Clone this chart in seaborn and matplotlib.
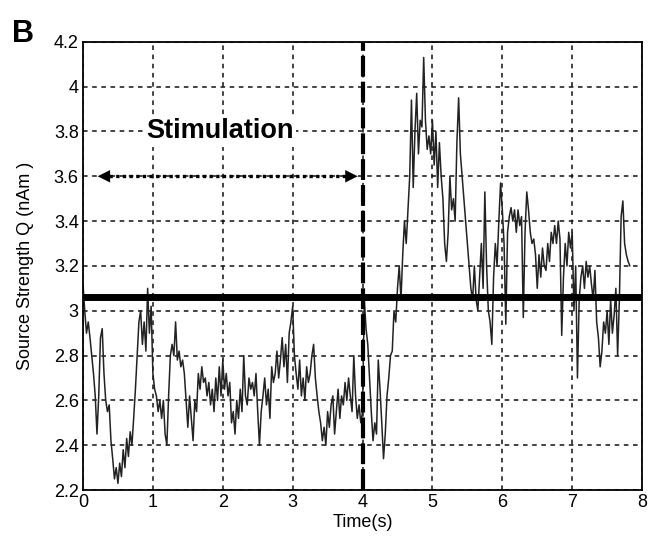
import numpy as np
import pandas as pd
import matplotlib
matplotlib.use("Agg")
import matplotlib.pyplot as plt
import seaborn as sns

# Source strength Q (nAm), sampled every 0.025 s
q_nAm = [
    3.12, 3.00, 2.90, 2.95, 2.88, 2.80, 2.72, 2.62, 2.45, 2.62,
    2.88, 2.92, 2.72, 2.60, 2.55, 2.58, 2.42, 2.34, 2.25, 2.30,
    2.23, 2.32, 2.26, 2.38, 2.30, 2.43, 2.35, 2.46, 2.40, 2.52,
    2.65, 2.80, 2.95, 3.00, 2.85, 2.95, 2.82, 3.10, 2.90, 3.02,
    2.72, 2.65, 2.62, 2.55, 2.60, 2.52, 2.60, 2.45, 2.40, 2.62,
    2.80, 2.85, 2.80, 2.95, 2.78, 2.82, 2.75, 2.78, 2.72, 2.60,
    2.48, 2.62, 2.52, 2.42, 2.60, 2.55, 2.72, 2.65, 2.75, 2.68,
    2.70, 2.62, 2.68, 2.58, 2.65, 2.55, 2.70, 2.60, 2.75, 2.62,
    2.78, 2.65, 2.72, 2.62, 2.68, 2.50, 2.55, 2.45, 2.60, 2.52,
    2.65, 2.55, 2.80, 2.62, 2.58, 2.70, 2.65, 2.68, 2.62, 2.72,
    2.55, 2.40, 2.55, 2.62, 2.70, 2.58, 2.65, 2.52, 2.75, 2.68,
    2.72, 2.82, 2.70, 2.78, 2.88, 2.75, 2.85, 2.68, 2.90, 2.95,
    3.02, 2.80, 2.72, 2.65, 2.78, 2.62, 2.70, 2.60, 2.75, 2.68,
    2.72, 2.80, 2.85, 2.70, 2.62, 2.55, 2.50, 2.42, 2.48, 2.40,
    2.55, 2.48, 2.58, 2.62, 2.45, 2.55, 2.65, 2.52, 2.62, 2.58,
    2.68, 2.60, 2.70, 2.62, 2.55, 2.80, 2.62, 2.52, 2.58, 2.50,
    2.55, 3.05, 2.92, 2.85, 2.70, 2.55, 2.42, 2.50, 2.45, 2.78,
    2.65, 2.50, 2.34, 2.45, 2.62, 2.70, 2.80, 2.82, 3.00, 2.95,
    3.10, 3.20, 3.05, 3.25, 3.40, 3.30, 3.45, 3.60, 3.94, 3.55,
    3.80, 3.97, 3.70, 3.85, 3.82, 4.13, 3.85, 3.72, 3.78, 3.70,
    3.85, 3.65, 3.80, 3.55, 3.75, 3.60, 3.50, 3.30, 3.22, 3.35,
    3.60, 3.45, 3.50, 3.40, 3.75, 3.95, 3.70, 3.60, 3.50, 3.40,
    3.30, 3.20, 3.10, 3.05, 3.20, 3.05, 3.00, 3.15, 3.30, 3.10,
    3.53, 3.20, 3.00, 2.95, 2.85, 3.15, 3.30, 3.20, 3.40, 3.57,
    3.45, 3.30, 2.94, 3.35, 3.42, 3.46, 3.40, 3.45, 3.35, 3.45,
    3.38, 3.42, 2.97, 3.35, 3.53, 3.45, 3.35, 3.30, 3.32, 3.25,
    3.10, 3.25, 3.15, 3.28, 3.20, 3.18, 3.30, 3.22, 3.35, 3.30,
    3.38, 3.30, 3.40, 3.32, 2.89, 3.15, 3.30, 3.20, 3.35, 3.28,
    3.35, 3.00, 3.20, 2.70, 3.05, 3.15, 3.20, 3.10, 3.22, 3.15,
    3.20, 3.12, 3.05, 3.18, 2.95, 2.88, 2.75, 2.82, 2.95, 2.90,
    3.00, 2.85, 3.05, 2.90, 2.98, 3.10, 2.80, 3.05, 3.42, 3.49,
    3.30, 3.25, 3.22, 3.20,
]
sample_step_s = 0.025
time_s = [round(i * sample_step_s, 3) for i in range(len(q_nAm))]

baseline_q = 3.06
stim_end_s = 4.0
stim_start_s = 0.17
arrow_y = 3.6
x_ticks = [0, 1, 2, 3, 4, 5, 6, 7, 8]
y_ticks = [2.2, 2.4, 2.6, 2.8, 3.0, 3.2, 3.4, 3.6, 3.8, 4.0, 4.2]
y_tick_labels = ["2.2", "2.4", "2.6", "2.8", "3", "3.2", "3.4", "3.6", "3.8", "4", "4.2"]

df = pd.DataFrame({"Time(s)": time_s, "Q": q_nAm})

sns.set_style("white")
plt.rcParams["font.family"] = ["Liberation Sans Narrow", "Liberation Sans", "DejaVu Sans"]
plt.rcParams["text.color"] = "black"
plt.rcParams["axes.labelcolor"] = "black"

fig = plt.figure(figsize=(6.64, 5.5), dpi=100)
ax = fig.add_axes([0.125, 0.109, 0.842, 0.815])

ax.grid(True, color="#111111", linestyle=(0, (3, 3)), linewidth=1.1)
ax.set_axisbelow(True)

sns.lineplot(data=df, x="Time(s)", y="Q", ax=ax, color="#222222", linewidth=1.1)

ax.axhline(baseline_q, color="black", linewidth=5, zorder=4)
ax.axvline(stim_end_s, color="black", linewidth=3, linestyle=(0, (5, 1.2)), zorder=4)

# double arrow
ax.plot([stim_start_s + 0.2, stim_end_s - 0.2], [arrow_y, arrow_y], color="black",
        linestyle=(0, (1, 1)), linewidth=2.4, zorder=5)
ax.annotate("", xy=(stim_start_s, arrow_y), xytext=(stim_start_s + 0.3, arrow_y),
            arrowprops=dict(arrowstyle="-|>", color="black", lw=0.1, mutation_scale=22), zorder=5)
ax.annotate("", xy=(stim_end_s - 0.03, arrow_y), xytext=(stim_end_s - 0.33, arrow_y),
            arrowprops=dict(arrowstyle="-|>", color="black", lw=0.1, mutation_scale=22), zorder=5)

ax.text(1.96, 3.80, "Stimulation", ha="center", va="center", fontsize=19.5,
        fontweight="bold", color="black", family=["Liberation Sans", "DejaVu Sans"], zorder=6,
        bbox=dict(facecolor="white", edgecolor="none", pad=2))

ax.set_xlim(0, 8)
ax.set_ylim(2.2, 4.2)
ax.set_xticks(x_ticks)
ax.set_yticks(y_ticks)
ax.set_yticklabels(y_tick_labels)
ax.tick_params(axis="both", direction="in", length=0, labelsize=13, pad=3,
               colors="black", labelcolor="black")
for s in ax.spines.values():
    s.set_visible(True)
    s.set_color("black")
    s.set_linewidth(1.3)

ax.set_xlabel("Time(s)", fontsize=13, labelpad=2, color="black")
ax.set_ylabel("Source Strength Q (nAm )", fontsize=13, labelpad=14, color="black",
              family=["Liberation Sans", "DejaVu Sans"])

fig.text(0.018, 0.965, "B", fontsize=22, fontweight="bold", va="top", color="black",
         family=["Liberation Sans", "DejaVu Sans"])

fig.savefig("out.png", dpi=100)
